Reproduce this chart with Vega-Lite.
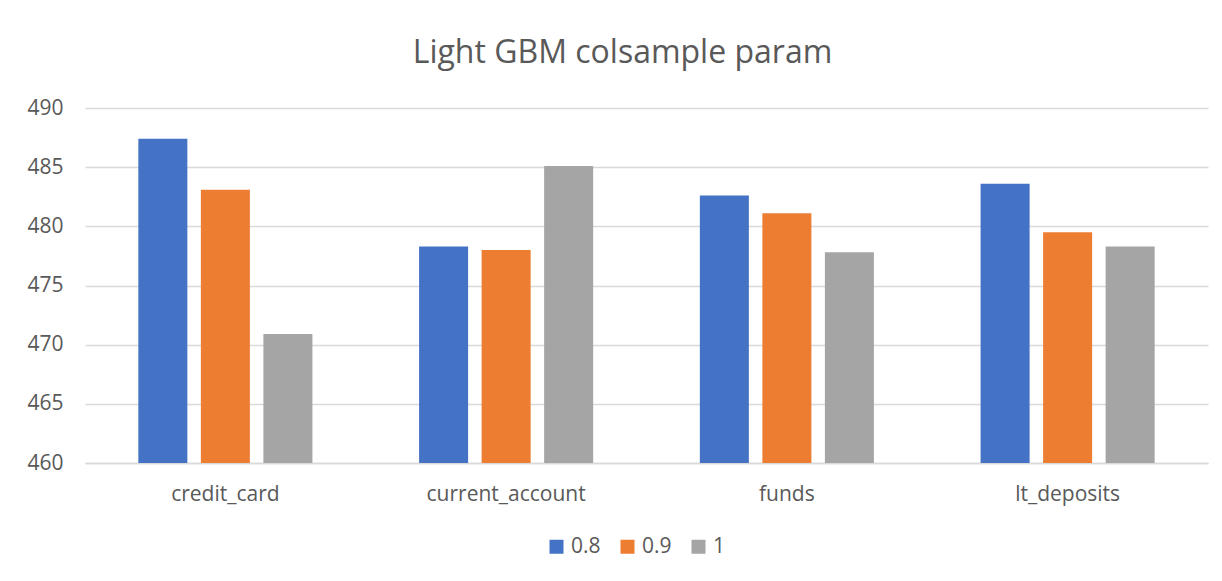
{
  "$schema": "https://vega.github.io/schema/vega-lite/v6.json",
  "width": 1123,
  "height": 355,
  "autosize": {"type": "none"},
  "padding": {"left": 85, "top": 108, "right": 14, "bottom": 118},
  "background": "white",
  "title": {
    "text": "Light GBM colsample param",
    "font": "Open Sans",
    "fontSize": 32,
    "fontWeight": "normal",
    "color": "#595959",
    "anchor": "middle",
    "offset": 27,
    "dx": -24
  },
  "data": {
    "values": [
      {"product": "credit_card", "colsample": "0.8", "score": 487.4},
      {"product": "credit_card", "colsample": "0.9", "score": 483.1},
      {"product": "credit_card", "colsample": "1", "score": 470.9},
      {"product": "current_account", "colsample": "0.8", "score": 478.3},
      {"product": "current_account", "colsample": "0.9", "score": 478.0},
      {"product": "current_account", "colsample": "1", "score": 485.1},
      {"product": "funds", "colsample": "0.8", "score": 482.6},
      {"product": "funds", "colsample": "0.9", "score": 481.1},
      {"product": "funds", "colsample": "1", "score": 477.8},
      {"product": "lt_deposits", "colsample": "0.8", "score": 483.6},
      {"product": "lt_deposits", "colsample": "0.9", "score": 479.5},
      {"product": "lt_deposits", "colsample": "1", "score": 478.3}
    ]
  },
  "mark": {"type": "bar", "clip": true},
  "encoding": {
    "x": {
      "field": "product",
      "type": "nominal",
      "sort": null,
      "scale": {"paddingInner": 0.38, "paddingOuter": 0.19},
      "axis": {
        "title": null,
        "labelAngle": 0,
        "labelFont": "Open Sans",
        "labelFontSize": 21,
        "labelColor": "#595959",
        "labelPadding": 20,
        "ticks": false,
        "domain": true,
        "domainColor": "#D9D9D9",
        "domainWidth": 1.5
      }
    },
    "xOffset": {
      "field": "colsample",
      "type": "nominal",
      "sort": null,
      "scale": {"paddingInner": 0.216, "paddingOuter": 0}
    },
    "y": {
      "field": "score",
      "type": "quantitative",
      "scale": {"domain": [460, 490], "zero": false, "nice": false},
      "axis": {
        "title": null,
        "values": [460, 465, 470, 475, 480, 485, 490],
        "labelFont": "Open Sans",
        "labelFontSize": 21,
        "labelColor": "#595959",
        "labelPadding": 22,
        "ticks": false,
        "domain": false,
        "grid": true,
        "gridColor": "#D9D9D9",
        "gridWidth": 1.5
      }
    },
    "color": {
      "field": "colsample",
      "type": "nominal",
      "sort": null,
      "scale": {"domain": ["0.8", "0.9", "1"], "range": ["#4472C4", "#ED7D31", "#A5A5A5"]},
      "legend": {
        "title": null,
        "orient": "none",
        "direction": "horizontal",
        "legendX": 461,
        "legendY": 428,
        "symbolType": "square",
        "symbolSize": 196,
        "symbolStrokeWidth": 0,
        "labelFont": "Open Sans",
        "labelFontSize": 21,
        "labelColor": "#595959",
        "labelOffset": 4,
        "columnPadding": 16
      }
    }
  },
  "config": {
    "view": {"stroke": null}
  }
}
